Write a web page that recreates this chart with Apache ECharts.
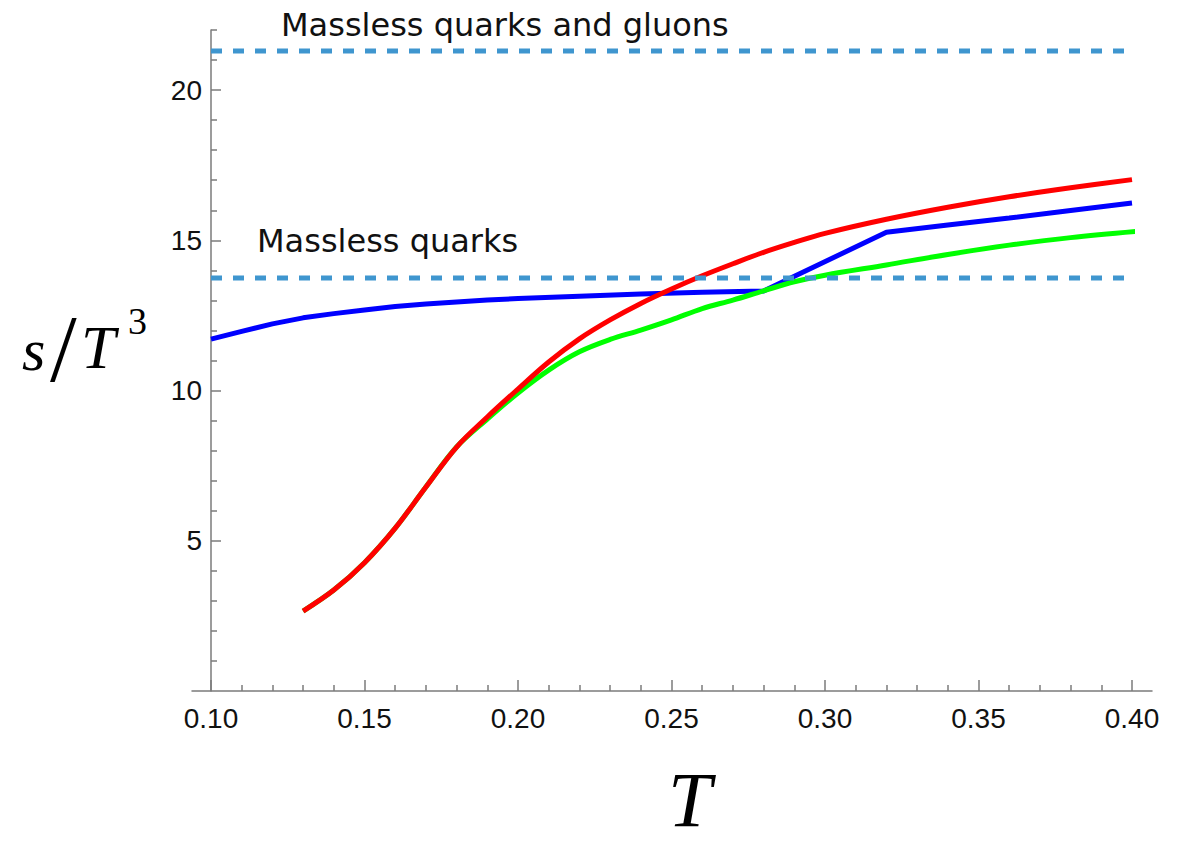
<!DOCTYPE html>
<html>
<head>
<meta charset="utf-8">
<title>Entropy density s/T^3</title>
<script src="https://cdn.jsdelivr.net/npm/echarts@6/dist/echarts.min.js"></script>
<style>
  html, body { margin: 0; padding: 0; background: #ffffff; }
  #chart { width: 1185px; height: 846px; }
</style>
</head>
<body>
<div id="chart"></div>
<script>
// Temperature T and s/T^3 for the three curves
const blueT   = [0.10, 0.11, 0.12, 0.13, 0.14, 0.15, 0.16, 0.17, 0.18, 0.19, 0.20, 0.22, 0.24, 0.26, 0.28, 0.32, 0.34, 0.36, 0.38, 0.40];
const blueS   = [11.71, 11.97, 12.22, 12.42, 12.56, 12.68, 12.80, 12.88, 12.95, 13.01, 13.06, 13.14, 13.21, 13.27, 13.31, 15.27, 15.51, 15.74, 15.99, 16.24];

const redT    = [0.13, 0.14, 0.15, 0.16, 0.17, 0.18, 0.19, 0.20, 0.21, 0.22, 0.23, 0.24, 0.25, 0.26, 0.27, 0.28, 0.29, 0.30, 0.32, 0.34, 0.36, 0.38, 0.40];
const redS    = [2.66, 3.36, 4.27, 5.42, 6.79, 8.12, 9.12, 10.05, 10.95, 11.72, 12.35, 12.90, 13.38, 13.82, 14.22, 14.60, 14.93, 15.23, 15.70, 16.10, 16.45, 16.75, 17.02];

const greenT  = [0.13, 0.14, 0.15, 0.16, 0.17, 0.18, 0.19, 0.20, 0.21, 0.22, 0.23, 0.24, 0.25, 0.26, 0.27, 0.28, 0.29, 0.30, 0.32, 0.34, 0.36, 0.38, 0.4065];
const greenS  = [2.66, 3.36, 4.27, 5.42, 6.79, 8.12, 9.05, 9.92, 10.68, 11.29, 11.70, 12.01, 12.35, 12.73, 13.01, 13.32, 13.62, 13.84, 14.18, 14.53, 14.84, 15.09, 15.34];

// Massless limits (horizontal reference levels)
const limitNames  = ['Massless quarks and gluons', 'Massless quarks'];
const limitValues = [21.3, 13.75];
const limitSpanT  = [0.10, 0.403];

// Axis ticks
const xMajorTicks = [0.10, 0.15, 0.20, 0.25, 0.30, 0.35, 0.40];
const xMinorTicks = [0.11, 0.12, 0.13, 0.14, 0.16, 0.17, 0.18, 0.19, 0.21, 0.22, 0.23, 0.24,
                     0.26, 0.27, 0.28, 0.29, 0.31, 0.32, 0.33, 0.34, 0.36, 0.37, 0.38, 0.39];
const yMajorTicks = [5, 10, 15, 20];
const yMinorTicks = [1, 2, 3, 4, 6, 7, 8, 9, 11, 12, 13, 14, 16, 17, 18, 19, 21, 22];

const pairs = (xs, ys) => xs.map((x, i) => [x, ys[i]]);

const AXIS_COLOR = '#7b7b7b';
const LABEL_FONT = 'Liberation Sans';
const MATH_FONT = 'Liberation Serif';
const NOTE_FONT = 'DejaVu Sans';

const chart = echarts.init(document.getElementById('chart'), null, { renderer: 'svg' });

const baseX = {
  type: 'value', min: 0.10, max: 0.40, gridIndex: 0, position: 'bottom',
  splitLine: { show: false }, axisLine: { show: false }
};
const baseY = {
  type: 'value', min: 0, max: 22, gridIndex: 0, position: 'left',
  splitLine: { show: false }
};

function limitSeries(v) {
  return {
    type: 'line', xAxisIndex: 0, yAxisIndex: 0,
    data: limitSpanT.map(t => [t, v]),
    symbol: 'none', clip: false, silent: true, z: 5,
    lineStyle: { color: '#3f96cf', width: 5, type: [11, 11] }
  };
}

function mathText(text, left, top, font) {
  return {
    type: 'text', left: left, top: top, z: 10,
    style: { text: text, font: font, fill: '#000' }
  };
}

chart.setOption({
  animation: false,
  backgroundColor: '#ffffff',
  grid: [
    { left: 211, right: 53, top: 30, bottom: 155 },
    { left: 192, right: 33, top: 30, bottom: 155 }
  ],
  xAxis: [
    Object.assign({}, baseX, {
      axisTick: { show: true, inside: true, length: 11, customValues: xMajorTicks,
                  lineStyle: { color: AXIS_COLOR, width: 1.5 } },
      axisLabel: { customValues: xMajorTicks, margin: 13, color: '#111',
                   fontFamily: LABEL_FONT, fontSize: 28,
                   formatter: v => Number(v).toFixed(2) }
    }),
    Object.assign({}, baseX, {
      axisTick: { show: true, inside: true, length: 6, customValues: xMinorTicks,
                  lineStyle: { color: AXIS_COLOR, width: 1.5 } },
      axisLabel: { show: false }
    }),
    { type: 'value', gridIndex: 1, min: 0, max: 1, position: 'bottom',
      axisLine: { show: true, lineStyle: { color: AXIS_COLOR, width: 1.5 } },
      axisTick: { show: false }, axisLabel: { show: false }, splitLine: { show: false } }
  ],
  yAxis: [
    Object.assign({}, baseY, {
      axisLine: { show: true, lineStyle: { color: AXIS_COLOR, width: 1.5 } },
      axisTick: { show: true, inside: true, length: 10, customValues: yMajorTicks,
                  lineStyle: { color: AXIS_COLOR, width: 1.5 } },
      axisLabel: { customValues: yMajorTicks, margin: 9, color: '#111',
                   fontFamily: LABEL_FONT, fontSize: 28 }
    }),
    Object.assign({}, baseY, {
      axisLine: { show: false },
      axisTick: { show: true, inside: true, length: 6, customValues: yMinorTicks,
                  lineStyle: { color: AXIS_COLOR, width: 1.5 } },
      axisLabel: { show: false }
    }),
    { type: 'value', gridIndex: 1, min: 0, max: 1, show: false }
  ],
  series: [
    { name: 'blue', type: 'line', xAxisIndex: 0, yAxisIndex: 0, data: pairs(blueT, blueS),
      symbol: 'none', clip: false, z: 2, lineStyle: { color: '#0000ff', width: 5 } },
    { name: 'green', type: 'line', xAxisIndex: 0, yAxisIndex: 0, data: pairs(greenT, greenS),
      symbol: 'none', clip: false, z: 3, smooth: 0.35,
      lineStyle: { color: '#00ff00', width: 5 } },
    { name: 'red', type: 'line', xAxisIndex: 0, yAxisIndex: 0, data: pairs(redT, redS),
      symbol: 'none', clip: false, z: 4, smooth: 0.35,
      lineStyle: { color: '#ff0000', width: 5 } },
    limitSeries(limitValues[0]),
    limitSeries(limitValues[1])
  ],
  graphic: [
    { type: 'text', left: 281, top: 9, z: 10,
      style: { text: limitNames[0], font: '32px ' + NOTE_FONT, fill: '#111' } },
    { type: 'text', left: 257, top: 225, z: 10,
      style: { text: limitNames[1], font: '32px ' + NOTE_FONT, fill: '#111' } },
    // y-axis title  s / T^3
    mathText('s', 22, 320, 'italic 60px ' + MATH_FONT),
    mathText('/', 50, 300, '96px ' + MATH_FONT),
    mathText('T', 81, 316, 'italic 62px ' + MATH_FONT),
    mathText('3', 128, 302, '38px ' + MATH_FONT),
    // x-axis title  T
    mathText('T', 668, 760, 'italic 78px ' + MATH_FONT)
  ]
});
</script>
</body>
</html>
